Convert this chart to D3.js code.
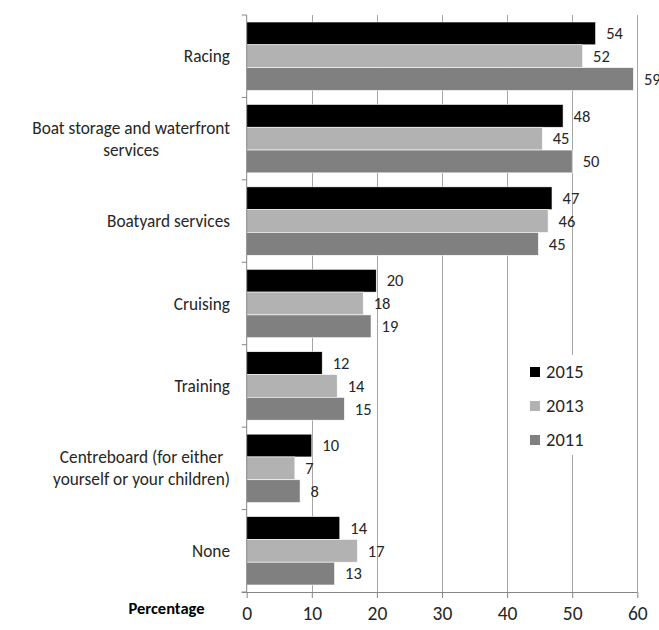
<!DOCTYPE html>
<html><head><meta charset="utf-8">
<script src="https://cdn.jsdelivr.net/npm/d3@7/dist/d3.min.js"></script>
<style>
body{margin:0;background:#fff;}
text{font-family:Carlito,Calibri,"Liberation Sans",Arial,sans-serif;}
</style></head>
<body><svg id="c" width="659" height="630"></svg>
<script>
const categories = [["Racing"],["Boat storage and waterfront","services"],["Boatyard services"],["Cruising"],["Training"],["Centreboard (for either","yourself or your children)"],["None"]];
const series = ["2015","2013","2011"];
const v2015 = [53.6,48.6,46.9,19.9,11.6,10.0,14.3];
const v2013 = [51.6,45.4,46.3,17.9,13.9,7.4,17.0];
const v2011 = [59.4,50.0,44.8,19.1,15.0,8.2,13.5];
const l2015 = [54,48,47,20,12,10,14];
const l2013 = [52,45,46,18,14,7,17];
const l2011 = [59,50,45,19,15,8,13];
const xTicks = [0,10,20,30,40,50,60];
const colors = ["#000000","#b2b2b2","#808080"];

const vals = [v2015,v2013,v2011];
const labs = [l2015,l2013,l2011];
const svg = d3.select("#c");
const x = d3.scaleLinear().domain([0,60]).range([246.7,637.3]);
const catIdx = categories.map((d,i)=>i);
const y0 = d3.scaleBand().domain(catIdx).range([15,592]).paddingInner(0.17).paddingOuter(0.085);
const y1 = d3.scaleBand().domain(series).range([0,y0.bandwidth()]);
const step = y0.step();

// gridlines
svg.append("g").selectAll("line").data(xTicks.slice(1)).join("line")
  .attr("x1",d=>Math.round(x(d))+0.5).attr("x2",d=>Math.round(x(d))+0.5)
  .attr("y1",15).attr("y2",592).attr("stroke","#a6a6a6").attr("stroke-width",1);

// bars
const g = svg.append("g");
catIdx.forEach(ci=>{
  series.forEach((s,si)=>{
    const yy = y0(ci)+y1(s);
    g.append("rect").attr("x",x(0)).attr("y",yy).attr("width",x(vals[si][ci])-x(0)).attr("height",y1.bandwidth())
      .attr("fill",colors[si]).attr("stroke","#ffffff").attr("stroke-width",0.6);
    g.append("text").attr("x",x(vals[si][ci])+10.5).attr("y",yy+y1.bandwidth()/2).attr("dy","0.35em")
      .attr("font-size",16.5).attr("fill","#262626").text(labs[si][ci]);
  });
});

// y axis
const ay = svg.append("g");
ay.append("line").attr("x1",x(0)).attr("x2",x(0)).attr("y1",15).attr("y2",592).attr("stroke","#868686");
ay.selectAll("line.t").data(d3.range(8)).join("line").attr("class","t")
  .attr("x1",x(0)-5).attr("x2",x(0)).attr("y1",d=>15+d*step).attr("y2",d=>15+d*step).attr("stroke","#868686");
catIdx.forEach(ci=>{
  const lines = categories[ci];
  const cy = y0(ci)+y0.bandwidth()/2;
  const tg = svg.append("g");
  const ts = lines.map((ln,li)=>tg.append("text").attr("text-anchor","middle").attr("font-size",17.3).attr("fill","#262626")
      .attr("y",cy+(li-(lines.length-1)/2)*22).attr("dy","0.35em").text(ln));
  const w = d3.max(ts,t=>t.node().getComputedTextLength());
  ts.forEach(t=>t.attr("x",230-w/2));
});

// x axis
const ax = svg.append("g").attr("transform","translate(0,592)")
  .call(d3.axisBottom(x).tickValues(xTicks).tickSize(6).tickPadding(8).tickFormat(d3.format("d")));
ax.select(".domain").attr("stroke","#868686").attr("d",`M${x(0)-5},0.5H${x(60)}`);
ax.selectAll(".tick line").attr("stroke","#868686");
ax.selectAll(".tick text").attr("font-size",19.5).attr("fill","#262626").attr("font-family",'Carlito,Calibri,"Liberation Sans",Arial,sans-serif');

svg.append("text").attr("x",166.5).attr("y",608).attr("dy","0.35em").attr("text-anchor","middle")
  .attr("font-size",16.5).attr("font-weight","bold").attr("fill","#000").text("Percentage");

// legend
const lg = svg.append("g");
lg.append("rect").attr("x",515).attr("y",355).attr("width",105).attr("height",100).attr("fill","#fff");
series.forEach((s,i)=>{
  const cy = 372+i*34;
  lg.append("rect").attr("x",530).attr("y",cy-5).attr("width",10).attr("height",10).attr("fill",colors[i]);
  lg.append("text").attr("x",546).attr("y",cy).attr("dy","0.35em").attr("font-size",18.5).attr("fill","#262626").text(s);
});
</script></body></html>
